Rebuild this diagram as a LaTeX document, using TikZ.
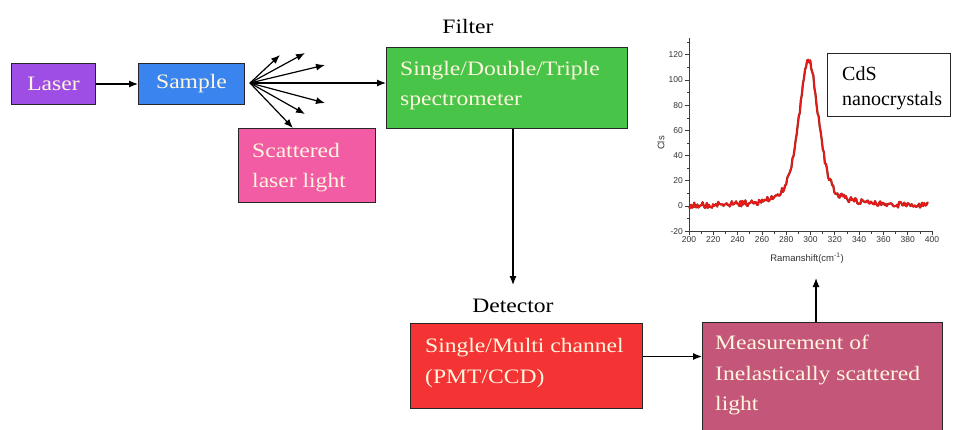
\documentclass[tikz,border=0pt]{standalone}
\usepackage{fontspec}
\setmainfont{Liberation Serif}[FakeStretch=1.15]
\newfontfamily\plainserif{Liberation Serif}
\newfontfamily\axisfont{Liberation Sans}
\usetikzlibrary{arrows.meta}

\definecolor{laserc}{RGB}{158,78,228}
\definecolor{samplec}{RGB}{58,132,240}
\definecolor{filterc}{RGB}{72,196,72}
\definecolor{scatc}{RGB}{242,92,164}
\definecolor{detc}{RGB}{244,52,52}
\definecolor{measc}{RGB}{196,86,122}
\definecolor{boxtextc}{RGB}{255,246,222}
\definecolor{curvec}{RGB}{235,25,25}
\definecolor{curveedge}{RGB}{150,40,25}
\definecolor{axisc}{RGB}{60,60,60}

\tikzset{
  box/.style={draw=black!85, line width=1pt, inner sep=0pt, anchor=north west},
  boxtext/.style={text=boxtextc, align=left, inner sep=0pt, anchor=north west,
                  font=\fontsize{20.5}{30}\selectfont},
  heading/.style={text=black, inner sep=0pt, anchor=base,
                  font=\fontsize{20.5}{24}\selectfont},
  arr/.style={draw=black, line width=1.2pt, -{Latex[length=9pt,width=7pt]}},
  ticklabel/.style={text=black!80, inner sep=0pt, font=\axisfont\fontsize{8.5}{10}\selectfont},
}

\begin{document}
\begin{tikzpicture}[x=1pt, y=-1pt]
\clip (0,0) rectangle (959,429);
\fill[white] (0,0) rectangle (959,429);

% ---- source side ----
\node[box, fill=laserc, minimum width=84pt, minimum height=41pt, text=boxtextc,
      font=\fontsize{20.5}{24}\selectfont] (laser) at (11,63) {Laser};
\node[box, fill=samplec, minimum width=106pt, minimum height=41pt, text=boxtextc,
      font=\fontsize{20.5}{24}\selectfont] (sample) at (138,63) {Sample};
\draw[arr] (laser.east) -- (sample.west);

\node[box, fill=scatc, minimum width=137pt, minimum height=74pt] (scat) at (238,128) {};
\node[boxtext] (scattxt) at (252,143) {Scattered\\laser light};

% ---- filter ----
\node[box, fill=filterc, minimum width=241pt, minimum height=81pt] (filter) at (386,47) {};
\node[boxtext] (filtertxt) at (400,61) {Single/Double/Triple\\spectrometer};
\node[heading] (filterlbl) at (468,33) {Filter};

% ---- scattering fan from the sample ----
\coordinate (fan) at (250,83);
\coordinate (f1) at (280,55);
\coordinate (f2) at (305,53);
\coordinate (f3) at (325,65);
\coordinate (f4) at (325,103);
\coordinate (f5) at (305,114);
\coordinate (f6) at (293,128);
\foreach \t in {f1,f2,f3,f4,f5,f6}
  \draw[arr] (fan) -- (\t);
\draw[arr] (fan) -- (fan -| filter.west);

% ---- detector ----
\node[heading] (detlbl) at (513,312) {Detector};
\coordinate (dettip) at (513,285);
\draw[arr] (dettip |- filter.south) -- (dettip);

\node[box, fill=detc, minimum width=232pt, minimum height=85pt] (det) at (410,323) {};
\node[boxtext, font=\fontsize{20.5}{31}\selectfont] (dettxt) at (425,338) {Single/Multi channel\\(PMT/CCD)};

% ---- measurement ----
\node[box, fill=measc, minimum width=240pt, minimum height=130pt] (meas) at (702,322) {};
\node[boxtext, font=\fontsize{20.5}{30.5}\selectfont] (meastxt) at (715,335)
  {Measurement of\\Inelastically scattered\\light};
\draw[arr] ([yshift=9.5pt]det.east) -- ([yshift=9.5pt]det.east -| meas.west);

\coordinate (plotfoot) at (816,278);
\draw[arr] (plotfoot |- meas.north) -- (plotfoot);

% ---- Raman spectrum ----
\begin{scope}[shift={(689,206)}, x=1.215pt, y=1.26pt]
  \draw[axisc, line width=0.8pt] (0,-20) -- (200,-20);
  \draw[axisc, line width=0.8pt] (0,-20) -- (0,133);
  \foreach \v in {-20,0,...,120} {
    \draw[axisc, line width=0.7pt] (0,\v) -- ++(-4pt,0);
    \node[ticklabel, anchor=east] (yl\v) at ([xshift=-6pt]0,\v) {\v};
  }
  \foreach \v in {-10,10,...,130}
    \draw[axisc, line width=0.6pt] (0,\v) -- ++(-2.5pt,0);
  \foreach \v in {200,220,...,400} {
    \draw[axisc, line width=0.7pt] (\v-200,-20) -- ++(0,-4pt);
    \node[ticklabel, anchor=north] (xl\v) at ([yshift=-5pt]\v-200,-20) {\v};
  }
  \foreach \v in {210,230,...,390}
    \draw[axisc, line width=0.6pt] (\v-200,-20) -- ++(0,-2.5pt);

  % noisy Raman band near 300 cm^-1, drawn twice for a darker rim
  \pgfmathsetseed{17}
  \draw[curveedge, line width=2.2pt, line join=round]
    plot[domain=0:197, samples=230]
    (\x, {115*(0.55/(1+((\x-98.5)/9.8)^2) + 0.45*exp(-((\x-98.5)^2)/135)) + 2.4*rand});
  \pgfmathsetseed{17}
  \draw[curvec, line width=1.4pt, line join=round]
    plot[domain=0:197, samples=230]
    (\x, {115*(0.55/(1+((\x-98.5)/9.8)^2) + 0.45*exp(-((\x-98.5)^2)/135)) + 2.4*rand});
\end{scope}

\node[ticklabel, font=\axisfont\fontsize{9.5}{11}\selectfont] (xtitle) at (807,258)
  {Ramanshift(cm\textsuperscript{-1})};
\node[ticklabel, font=\axisfont\fontsize{9.5}{11}\selectfont, rotate=90] (ytitle) at (661,143) {Cls};

% ---- sample name ----
\node[draw=black!85, line width=1pt, minimum width=123pt, minimum height=63pt,
      inner sep=0pt, anchor=north west, fill=white] (cds) at (827,53) {};
\node[inner sep=0pt, anchor=north west, align=left, text=black,
      font=\plainserif\fontsize{20}{25}\selectfont] (cdstxt) at (842,66) {CdS\\nanocrystals};
\end{tikzpicture}
\end{document}
